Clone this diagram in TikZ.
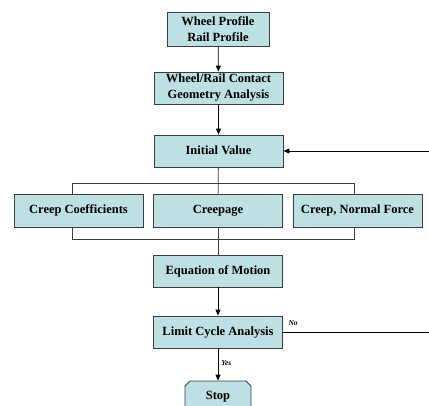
\documentclass[tikz,border=0pt]{standalone}
\usepackage{fontspec}
\setmainfont{Liberation Serif}
\usetikzlibrary{arrows.meta,shapes.misc}
\definecolor{boxfill}{RGB}{188,224,228}
\definecolor{boxline}{RGB}{60,60,60}
\begin{document}
\begin{tikzpicture}[x=1pt, y=1pt,
   base_node_style/.style={draw=boxline, fill=boxfill, line width=0.8pt, text=black, inner sep=1pt,
      font=\fontsize{12.5}{16}\selectfont\bfseries, align=center},
   box_style/.style={base_node_style, rectangle, minimum width=129pt, minimum height=32pt},
   one_line_style/.style={box_style, text height=8.5pt, text depth=2.5pt},
   stop_style/.style={base_node_style, chamfered rectangle, chamfered rectangle xsep=2.5pt,
      chamfered rectangle ysep=2.5pt, minimum width=66pt, minimum height=30pt,
      text height=8.5pt, text depth=2.5pt},
   edge_style/.style={-{Triangle[length=6pt,width=5pt]}, draw=black, line width=0.8pt},
   line_style/.style={draw=boxline, line width=0.8pt},
   tag_style/.style={font=\fontsize{7.5}{8}\selectfont\bfseries\itshape, inner sep=1pt}]

    \useasboundingbox (0,0) rectangle (429,-405);

    \node[box_style, minimum width=102pt, minimum height=34pt] (prof) at (218,-29) {Wheel Profile\\Rail Profile};
    \node[box_style] (geom) at (218.5,-88) {Wheel/Rail Contact\\Geometry Analysis};
    \node[one_line_style] (init) at (218.5,-151) {Initial Value};
    \node[one_line_style, minimum height=33pt] (coef) at (78.5,-210.5) {Creep Coefficients};
    \node[one_line_style, minimum height=33pt] (crpg) at (218,-210.5) {Creepage};
    \node[one_line_style, minimum height=33pt] (forc) at (357.5,-210.5) {Creep, Normal Force};
    \node[one_line_style] (eqmo) at (218,-271) {Equation of Motion};
    \node[one_line_style] (lcyc) at (218,-332) {Limit Cycle Analysis};
    \node[stop_style] (stop) at (218,-396) {Stop};

    % split and join lines
    \coordinate (split_l) at (72,-183);
    \coordinate (split_r) at (354,-183);
    \coordinate (join_l) at (72,-239);
    \coordinate (join_r) at (354,-239);
    \coordinate (fb_in) at (429,-151);
    \coordinate (fb_out) at (429,-332);

    \path [edge_style](prof) edge (geom);
    \path [edge_style](geom) edge (init);
    \draw [line_style](init) -- (crpg);
    \draw [line_style](split_l |- coef.north) -- (split_l) -- (split_r) -- (split_r |- forc.north);
    \draw [line_style](join_l |- coef.south) -- (join_l) -- (join_r) -- (join_r |- forc.south);
    \draw [line_style](crpg) -- (eqmo);
    \path [edge_style](eqmo) edge (lcyc);
    \path [edge_style](lcyc) edge node[tag_style, right=2pt, pos=0.45] {Yes} (stop);
    \draw [line_style, draw=black](lcyc) -- node[tag_style, pos=0.07, above=5pt] {No} (fb_out);
    \draw [edge_style](fb_in) -- (init);
\end{tikzpicture}
\end{document}
